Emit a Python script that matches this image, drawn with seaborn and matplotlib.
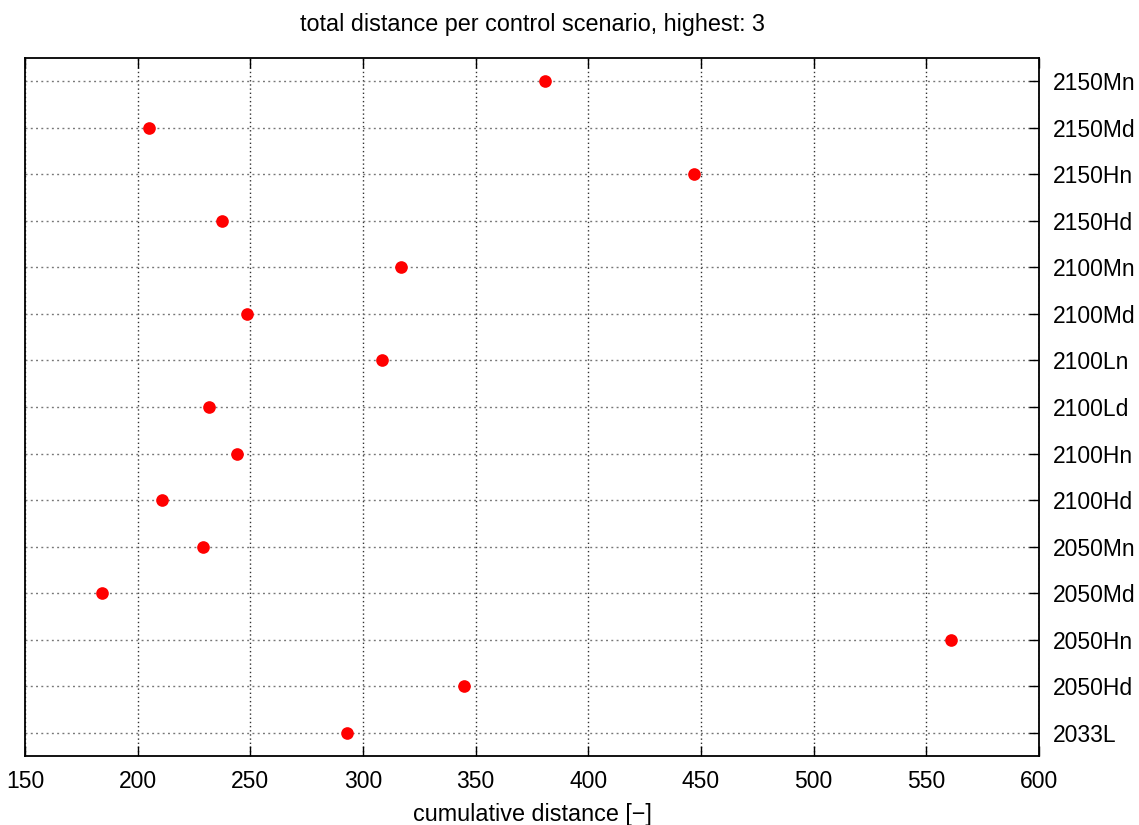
import matplotlib
matplotlib.use("Agg")
import matplotlib.pyplot as plt
import seaborn as sns
import pandas as pd

# Scenarios from top to bottom and their cumulative distances
scenarios = ["2150Mn", "2150Md", "2150Hn", "2150Hd", "2100Mn", "2100Md", "2100Ln",
             "2100Ld", "2100Hn", "2100Hd", "2050Mn", "2050Md", "2050Hn", "2050Hd", "2033L"]
distances = [380.8, 205.0, 446.9, 237.4, 316.9, 248.5, 308.4,
             231.7, 244.1, 210.8, 229.0, 184.2, 561.0, 344.8, 292.7]
x_ticks = [150, 200, 250, 300, 350, 400, 450, 500, 550, 600]

df = pd.DataFrame({"scenario": scenarios, "distance": distances})

sns.set_style("white")
plt.rcParams["font.family"] = ["Liberation Sans", "DejaVu Sans"]
plt.rcParams["text.color"] = "black"

fig = plt.figure(figsize=(11.39, 8.25), dpi=100)
ax = fig.add_axes([25 / 1139, 1 - 756 / 825, (1039 - 25) / 1139, (756 - 58) / 825])

sns.stripplot(data=df, x="distance", y="scenario", order=scenarios, orient="h",
              jitter=False, color="#ff0000", size=9.1, linewidth=0, ax=ax, zorder=3)

ax.set_xlim(150, 600)
ax.set_ylim(len(scenarios) - 0.5, -0.5)
ax.set_xticks(x_ticks)
ax.set_xticklabels([str(t) for t in x_ticks])
ax.set_xlabel("")
ax.set_ylabel("")

ax.yaxis.tick_right()
ax.tick_params(axis="x", which="both", direction="in", length=7, width=1,
               top=True, bottom=True, labelsize=16.5, pad=10, colors="black")
ax.tick_params(axis="y", which="both", direction="in", length=7, width=1,
               right=True, left=False, labelright=True, labelleft=False,
               labelsize=16.5, pad=10, colors="black")

ax.xaxis.grid(True, color="#333333", linestyle=(0, (1, 2)), linewidth=1)
ax.yaxis.grid(True, color="#777777", linestyle=(0, (1.4, 2.4)), linewidth=1)
ax.set_axisbelow(True)
for sp in ax.spines.values():
    sp.set_visible(True)
    sp.set_color("black")
    sp.set_linewidth(1.3)

fig.text(532 / 1139, 1 - 24 / 825, "total distance per control scenario, highest: 3",
         ha="center", va="center", fontsize=16.8, color="black")
fig.text(532 / 1139, 1 - 815 / 825, "cumulative distance [\u2212]",
         ha="center", va="center", fontsize=16.8, color="black")

fig.savefig("out.png", dpi=100, facecolor="white")
